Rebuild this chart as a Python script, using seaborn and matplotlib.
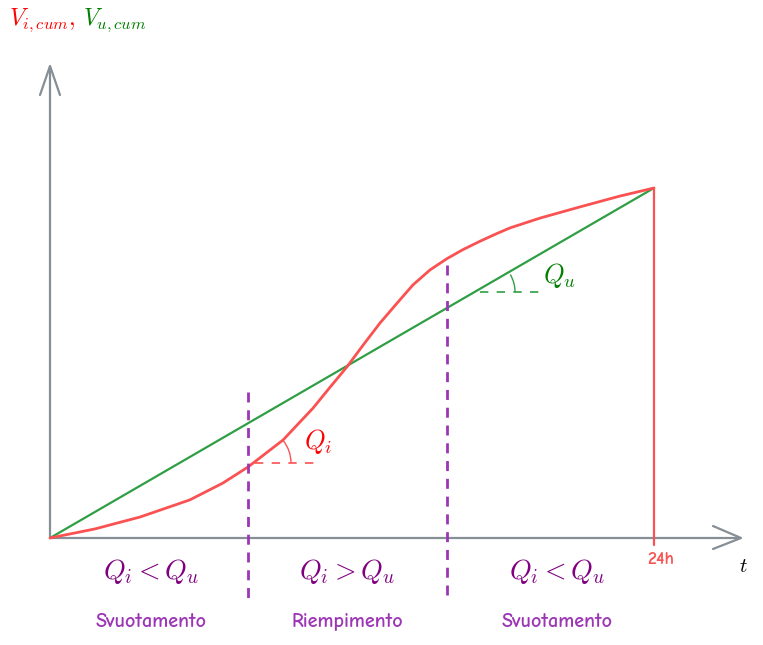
import numpy as np
import pandas as pd
import matplotlib
matplotlib.use("Agg")
import matplotlib.pyplot as plt
import matplotlib.transforms as mtransforms
from matplotlib.patches import Arc
import seaborn as sns

# ---------------- data ----------------
t_in = [0, 1.79, 3.58, 5.56, 6.87, 7.87, 9.26, 10.45, 11.13, 11.80, 12.44, 13.11,
        13.79, 14.42, 15.10, 15.77, 16.41, 17.09, 17.76, 18.28, 19.47, 21.06, 22.65, 24]
v_in = [0, 2.6, 6.0, 10.9, 15.7, 20.3, 28.0, 37.1, 43.1, 48.9, 55.1, 61.4,
        67.1, 72.3, 76.6, 79.8, 82.4, 84.8, 87.0, 88.6, 91.4, 94.6, 97.7, 100]
t_out = [0, 24]
v_out = [0, 100]
phase_bounds = [7.87, 15.77]
phase_conds = [r"$Q_i < Q_u$", r"$Q_i > Q_u$", r"$Q_i < Q_u$"]
phase_names = ["Svuotamento", "Riempimento", "Svuotamento"]
phase_centers = [4.0, 11.8, 20.15]

RED = "#fa5252"
GREEN = "#2f9e44"
VIOLET = "#9c36b5"
PURPLE = "#800080"
GRAY = "#868e96"

W, H = 763, 645
sns.set_theme(style="white")
plt.rcParams["mathtext.fontset"] = "cm"
plt.rcParams["font.family"] = ["DejaVu Sans"]
HAND = ["Comic Neue", "Lato", "DejaVu Sans"]

fig = plt.figure(figsize=(W / 100, H / 100), dpi=100)
ax = fig.add_axes([0, 0, 1, 1])
ax.set_axis_off()

# pixel geometry of the plot frame
ox, oy = 50, 538
sx = 604 / 24.0
sy = 350 / 100.0
ax.set_xlim(-ox / sx, (W - ox) / sx)
ax.set_ylim((oy - H) / sy, oy / sy)

# pixel transform (top-left origin)
P = mtransforms.Affine2D().scale(1 / W, -1 / H).translate(0, 1) + fig.transFigure

# axes with open arrowheads
ax.plot([50, 740], [538, 538], color=GRAY, lw=1.6, transform=P, solid_capstyle="round")
ax.plot([50, 50], [538, 67], color=GRAY, lw=1.6, transform=P, solid_capstyle="round")
ax.plot([713, 741, 713], [526, 538, 549], color=GRAY, lw=1.6, transform=P,
        solid_capstyle="round", solid_joinstyle="round")
ax.plot([40, 50, 60], [95, 66, 95], color=GRAY, lw=1.6, transform=P,
        solid_capstyle="round", solid_joinstyle="round")

# cumulative curves
df_out = pd.DataFrame({"t": t_out, "V": v_out})
df_in = pd.DataFrame({"t": t_in, "V": v_in})
sns.lineplot(data=df_out, x="t", y="V", color=GREEN, lw=1.6, ax=ax,
             sort=False, estimator=None, legend=False)
sns.lineplot(data=df_in, x="t", y="V", color=RED, lw=2.0, ax=ax,
             sort=False, estimator=None, legend=False)
ax.lines[-1].set_solid_joinstyle("round")

# vertical red line at 24h
ax.plot([t_in[-1], t_in[-1]], [v_in[-1], -2], color=RED, lw=1.6)

# phase boundaries
ax.plot([phase_bounds[0]] * 2, [41.7, -17.7], color=VIOLET, lw=2.0, dashes=(3.6, 2.8))
ax.plot([phase_bounds[1]] * 2, [78.0, -17.7], color=VIOLET, lw=2.0, dashes=(3.6, 2.8))

# slope markers
def angle_mark(cx, cy, length, r, ang, color):
    ax.plot([cx, cx + length], [cy, cy], color=color, lw=1.2, dashes=(5, 5), transform=P)
    ax.add_patch(Arc((cx, cy), 2 * r, 2 * r, theta1=-ang, theta2=0,
                     color=color, lw=1.0, transform=P))

angle_mark(255, 463, 63, 36, 38, RED)
angle_mark(480, 292, 62, 35, 30, GREEN)

ax.text(318, 442, r"$Q_i$", color="red", fontsize=19, ha="center", va="center", transform=P)
ax.text(560, 275, r"$Q_u$", color="green", fontsize=19, ha="center", va="center", transform=P)

# phase labels
for tc, cond, name in zip(phase_centers, phase_conds, phase_names):
    ax.text(tc, (538 - 571) / sy, cond, color=PURPLE, fontsize=20, ha="center", va="center")
    ax.text(tc, (538 - 622) / sy, name, color=VIOLET, fontsize=14.5, ha="center",
            va="center", family=HAND, fontweight="bold")

ax.text(t_in[-1] + 0.25, (538 - 560) / sy, "24h", color=RED, fontsize=13,
        ha="center", va="center", fontweight="bold", family=HAND)
ax.text(743, 566, r"$t$", color="black", fontsize=15, ha="center", va="center", transform=P)

# y-axis title
ax.text(9, 20, r"$V_{i,cum},$", color="red", fontsize=17, ha="left", va="center", transform=P)
ax.text(83, 20, r"$V_{u,cum}$", color="green", fontsize=17, ha="left", va="center", transform=P)

fig.savefig("out.png", dpi=100, facecolor="white")
